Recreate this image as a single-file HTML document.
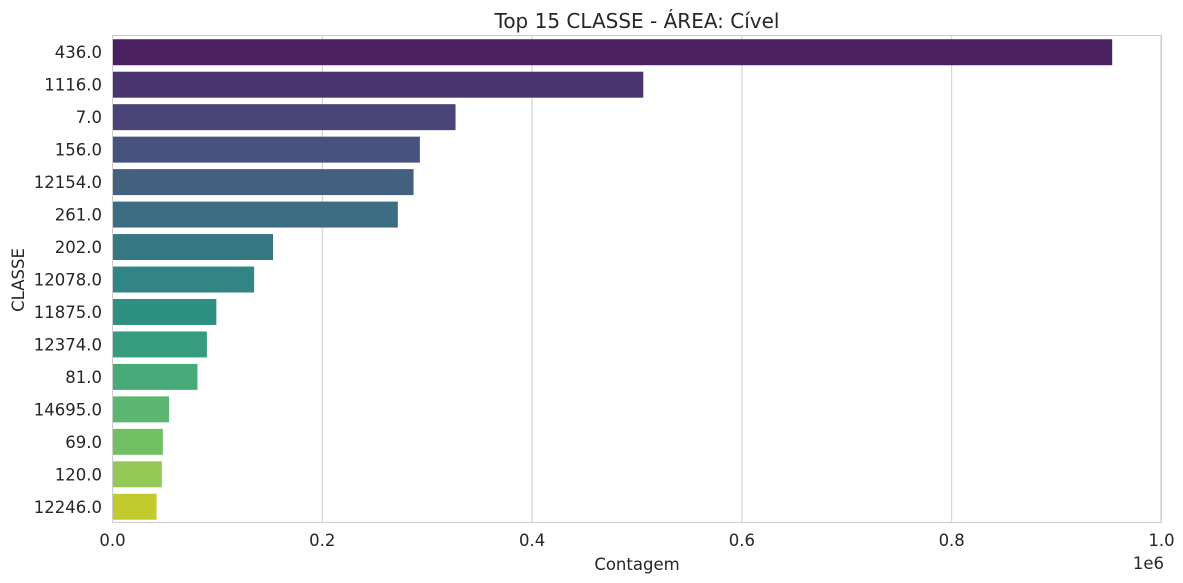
<!DOCTYPE html>
<html><head><meta charset="utf-8"><style>
body{margin:0;background:#fff;}
svg{display:block;font-family:"DejaVu Sans","Liberation Sans",sans-serif;}
</style></head><body>
<svg id="chart" width="1183" height="583" viewBox="0 0 1183 583" xmlns="http://www.w3.org/2000/svg">
<g id="grid"></g>
<g id="bars"></g>
<rect x="112.5" y="35.5" width="1048.5" height="487" fill="none" stroke="#cccccc" stroke-width="1"/>
<g id="yticks"></g>
<g id="xticks"></g>
<text x="637" y="28" font-size="20" fill="#262626" text-anchor="middle">Top 15 CLASSE - ÁREA: Cível</text>
<text x="637" y="570" font-size="16.5" fill="#262626" text-anchor="middle">Contagem</text>
<text x="24" y="280" font-size="16.5" fill="#262626" text-anchor="middle" transform="rotate(-90 24 280)">CLASSE</text>
<text x="1164" y="569" font-size="16.5" fill="#262626" text-anchor="end">1e6</text>
</svg>
<script>
const categories=["436.0","1116.0","7.0","156.0","12154.0","261.0","202.0","12078.0","11875.0","12374.0","81.0","14695.0","69.0","120.0","12246.0"];
const values=[953000,506000,327000,293000,287000,272000,153000,135000,99000,90000,81000,54000,48000,47000,42000];
const colors=["#4a2061","#4a3470","#4a4479","#46537f","#43607f","#3c6d82","#357883","#318585","#2e9080","#369c7d","#47aa78","#5ab670","#73c064","#93c856","#c2cb2e"];
const xTicks=[0,0.2,0.4,0.6,0.8,1.0];
const tickLabels=["0.0","0.2","0.4","0.6","0.8","1.0"];
const NS="http://www.w3.org/2000/svg";
const x0=112.5,x1=1161,yTop=35.5,yBot=522.5;
const xScale=v=>x0+v/1e6*1049;
const band=(yBot-yTop)/categories.length;
const yScale=i=>yTop+band*i;
const grid=document.getElementById('grid'),bars=document.getElementById('bars'),yt=document.getElementById('yticks'),xt=document.getElementById('xticks');
xTicks.forEach((t,i)=>{
 const X=xScale(t*1e6);
 const l=document.createElementNS(NS,'line');
 l.setAttribute('x1',X);l.setAttribute('x2',X);l.setAttribute('y1',yTop);l.setAttribute('y2',yBot);
 l.setAttribute('stroke','#cccccc');l.setAttribute('stroke-width','1');
 
 
 grid.appendChild(l);
 const tx=document.createElementNS(NS,'text');
 tx.setAttribute('x',X);tx.setAttribute('y',546);tx.setAttribute('font-size','16.5');tx.setAttribute('fill','#262626');tx.setAttribute('text-anchor','middle');
 tx.textContent=tickLabels[i];
 
 
 xt.appendChild(tx);
});
categories.forEach((c,i)=>{
 const y=yScale(i)+band*0.1+0.5;
 const r=document.createElementNS(NS,'rect');
 r.setAttribute('x',x0);r.setAttribute('y',y);r.setAttribute('width',xScale(values[i])-x0);r.setAttribute('height',band*0.8);
 r.setAttribute('fill',colors[i]);
 
 
 bars.appendChild(r);
 const tx=document.createElementNS(NS,'text');
 tx.setAttribute('x',102);tx.setAttribute('y',yScale(i)+band/2+6.5);tx.setAttribute('font-size','16.5');tx.setAttribute('fill','#262626');tx.setAttribute('text-anchor','end');
 tx.textContent=c;
 
 
 yt.appendChild(tx);
});
</script>
</body></html>
